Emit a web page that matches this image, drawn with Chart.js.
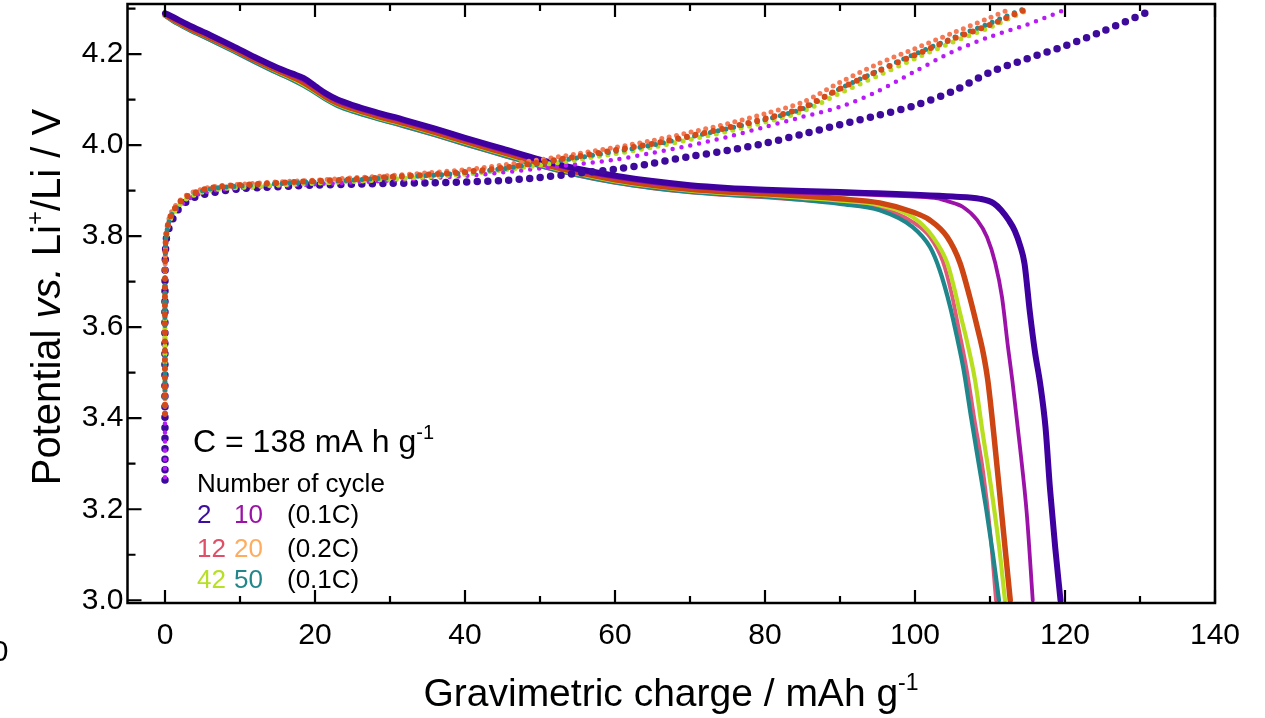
<!DOCTYPE html>
<html>
<head>
<meta charset="utf-8">
<script src="https://cdn.jsdelivr.net/npm/chart.js@4/dist/chart.umd.min.js"></script>
<style>
  html, body { margin: 0; padding: 0; background: #fff; overflow: hidden; }
  canvas { display: block; }
</style>
</head>
<body>
<canvas id="c" width="1265" height="718" style="width:1265px;height:718px"></canvas>
<script>
const FONT = '"Liberation Sans", Arial, Helvetica, sans-serif';

// Axis ticks
const xTicks = [0, 20, 40, 60, 80, 100, 120, 140];
const xMinorTicks = [10, 30, 50, 70, 90, 110, 130];
const yTicks = [3.0, 3.2, 3.4, 3.6, 3.8, 4.0, 4.2];
const yMinorTicks = [3.1, 3.3, 3.5, 3.7, 3.9, 4.1, 4.3];

// Cycle numbers and C-rates shown in the key
const cycles = [2, 10, 12, 20, 42, 50];
const rateRows = ['(0.1C)', '(0.2C)', '(0.1C)'];

// Discharge curves (solid lines): capacity / mAh g-1 and potential / V
const dis2Cap = [0,1,3,6,9,12,15,17,18.5,20,21.5,23,25,28,32,36,40,45,50,55,60,65,70,75,80,85,90,95,100,105,108.7,110.5,111.5,112.5,113.3,114.0,114.6,115.3,116.0,116.7,117.4,118.0,118.7,119.4];
const dis2V = [4.290,4.282,4.265,4.242,4.218,4.193,4.170,4.157,4.147,4.130,4.113,4.100,4.088,4.073,4.055,4.036,4.016,3.992,3.968,3.948,3.933,3.921,3.912,3.906,3.902,3.899,3.897,3.894,3.891,3.887,3.882,3.872,3.857,3.835,3.812,3.780,3.740,3.635,3.545,3.475,3.380,3.245,3.115,3.000];

const dis10Cap = [0,1,3,6,9,12,15,17,18.5,20,21.5,23,25,28,32,36,40,45,50,55,60,65,70,75,80,85,90,95,100,103,104.3,106.4,108.3,109.6,110.7,111.6,112.4,113.0,114.0,114.9,115.7];
const dis10V = [4.288,4.279,4.262,4.239,4.215,4.190,4.167,4.153,4.142,4.126,4.109,4.096,4.084,4.069,4.051,4.032,4.012,3.988,3.964,3.944,3.929,3.917,3.908,3.902,3.898,3.895,3.893,3.890,3.887,3.883,3.877,3.864,3.835,3.798,3.741,3.666,3.556,3.480,3.336,3.191,3.000];

const dis12Cap = [0,1,3,6,9,12,15,17,18.5,20,21.5,23,25,28,32,36,40,45,50,55,60,65,70,75,80,85,90,95.3,99.7,102,103.7,104.9,105.9,106.9,107.9,109.1,110.0,110.8];
const dis12V = [4.284,4.273,4.255,4.231,4.207,4.182,4.158,4.143,4.131,4.116,4.100,4.087,4.074,4.059,4.040,4.021,4.001,3.977,3.953,3.933,3.917,3.905,3.896,3.890,3.885,3.879,3.872,3.862,3.831,3.798,3.745,3.672,3.590,3.505,3.400,3.280,3.154,3.000];

const dis20Cap = [0,1,3,6,9,12,15,17,18.5,20,21.5,23,25,28,32,36,40,45,50,55,60,65,70,75,80,85,90,95.3,99.7,102,104.3,106,107.3,108.3,109.1,109.7,110.6,111.5,112.1,112.7];
const dis20V = [4.286,4.277,4.259,4.236,4.212,4.187,4.164,4.149,4.137,4.121,4.105,4.092,4.080,4.065,4.047,4.028,4.008,3.984,3.960,3.940,3.924,3.912,3.903,3.897,3.893,3.888,3.882,3.873,3.853,3.835,3.798,3.741,3.666,3.600,3.543,3.484,3.350,3.200,3.100,3.000];

const dis42Cap = [0,1,3,6,9,12,15,17,18.5,20,21.5,23,25,28,32,36,40,45,50,55,60,65,70,75,80,85,90,95.3,99.7,102.4,104.3,105.3,106.0,106.9,108.0,109.0,110.0,111.2,112.0];
const dis42V = [4.285,4.275,4.257,4.234,4.210,4.185,4.161,4.146,4.133,4.118,4.102,4.089,4.077,4.062,4.044,4.025,4.005,3.981,3.957,3.937,3.921,3.909,3.900,3.894,3.890,3.884,3.878,3.868,3.842,3.798,3.741,3.681,3.631,3.571,3.484,3.370,3.264,3.120,3.000];

const dis50Cap = [0,1,3,6,9,12,15,17,18.5,20,21.5,23,25,28,32,36,40,45,50,55,60,65,70,75,80,85,90,95.3,99.7,102,103.3,104.7,105.6,106.5,107.5,108.6,109.5,110.4,111.2];
const dis50V = [4.284,4.273,4.255,4.231,4.207,4.182,4.158,4.143,4.130,4.115,4.099,4.086,4.074,4.059,4.041,4.022,4.002,3.978,3.954,3.934,3.918,3.906,3.897,3.891,3.887,3.880,3.871,3.857,3.820,3.776,3.725,3.644,3.578,3.505,3.400,3.290,3.200,3.100,3.000];

// Charge curves (dotted): capacity / mAh g-1 and potential / V
const chg2Cap = [0,0,0.1,0.3,0.7,1.1,1.6,2.2,2.9,3.8,5,6.5,8,10,13,16.7,20,25,30,35,40,45,50,55,60,65,70,75,80,85,90,95,100,105,110,115,120,125,131];
const chg2V = [3.264,3.700,3.780,3.805,3.825,3.840,3.855,3.866,3.876,3.884,3.891,3.896,3.900,3.904,3.907,3.910,3.912,3.914,3.916,3.917,3.919,3.922,3.929,3.938,3.947,3.960,3.975,3.988,4.004,4.024,4.045,4.065,4.087,4.118,4.160,4.190,4.218,4.250,4.292];

const chg10Cap = [0,0,0.1,0.3,0.6,1.0,1.5,2.1,2.8,3.6,4.5,5.5,7,9,12,16,20,25,30,35,40,45,50,55,60,65,70,75,80,85,90,95,100,105,110,115,119.5];
const chg10V = [3.270,3.700,3.785,3.810,3.830,3.845,3.857,3.868,3.878,3.886,3.892,3.897,3.901,3.905,3.908,3.911,3.914,3.918,3.922,3.927,3.932,3.940,3.949,3.958,3.968,3.983,3.999,4.018,4.040,4.062,4.084,4.118,4.162,4.205,4.238,4.265,4.294];

const chg12Cap = [0,0,0.1,0.3,0.6,1.0,1.5,2.1,2.8,3.6,4.5,5.5,7,9,12,16,20,25,30,35,40,45,50,55,60,65,70,75,80,85,90,95,100,105,110,112.3];
const chg12V = [3.410,3.700,3.795,3.822,3.842,3.857,3.869,3.880,3.889,3.896,3.901,3.906,3.910,3.913,3.916,3.920,3.923,3.928,3.933,3.939,3.946,3.956,3.968,3.981,3.995,4.010,4.028,4.047,4.069,4.094,4.138,4.178,4.212,4.246,4.280,4.296];

const chg20Cap = [0,0,0.1,0.3,0.6,1.0,1.5,2.1,2.8,3.6,4.5,5.5,7,9,12,16,20,25,30,35,40,45,50,55,60,65,70,75,80,85,90,95,100,105,110,115];
const chg20V = [3.410,3.700,3.792,3.818,3.838,3.853,3.865,3.877,3.886,3.893,3.899,3.904,3.908,3.911,3.914,3.918,3.921,3.925,3.930,3.935,3.941,3.950,3.962,3.975,3.989,4.003,4.020,4.038,4.058,4.082,4.124,4.162,4.198,4.233,4.264,4.300];

const chg42Cap = [0,0,0.1,0.3,0.6,1.0,1.5,2.1,2.8,3.6,4.5,5.5,7,9,12,16,20,25,30,35,40,45,50,55,60,65,70,75,80,85,90,95,100,105,110,115.3];
const chg42V = [3.410,3.700,3.788,3.812,3.832,3.847,3.859,3.871,3.881,3.888,3.894,3.899,3.903,3.906,3.909,3.913,3.916,3.920,3.925,3.930,3.936,3.945,3.956,3.968,3.981,3.995,4.012,4.030,4.050,4.074,4.114,4.152,4.190,4.226,4.259,4.299];

const chg50Cap = [0,0,0.1,0.3,0.6,1.0,1.5,2.1,2.8,3.6,4.5,5.5,7,9,12,16,20,25,30,35,40,45,50,55,60,65,70,75,80,85,90,95,100,105,110,114.3];
const chg50V = [3.410,3.700,3.790,3.815,3.835,3.850,3.862,3.874,3.884,3.891,3.897,3.902,3.906,3.909,3.912,3.916,3.919,3.923,3.928,3.933,3.939,3.948,3.960,3.972,3.986,4.000,4.018,4.036,4.056,4.080,4.124,4.163,4.200,4.235,4.268,4.298];

// Colours per cycle
const lineColors = { 2: '#3f00a0', 10: '#9c12a8', 12: '#e0587a', 20: '#cc4512', 42: '#b8df1f', 50: '#1f878c' };
const dotColors  = { 2: '#3d0a9c', 10: '#b81cf6', 12: '#f47a56', 20: '#d44a18', 42: '#b5dc22', 50: '#218a8e' };
const keyColors  = { 2: '#3c0ea0', 10: '#9b13a6', 12: '#df5068', 20: '#ffac5f', 42: '#b6e024', 50: '#23878a' };

const pts = (xs, ys) => xs.map((x, i) => ({ x, y: ys[i] }));

function dotted(cycle, xs, ys, size, gap) {
  return {
    label: 'charge ' + cycle, data: pts(xs, ys),
    borderColor: dotColors[cycle], borderWidth: size,
    borderDash: [0, gap], borderCapStyle: 'round', borderJoinStyle: 'round',
    pointRadius: 0, tension: 0.3, fill: false
  };
}
function solid(cycle, xs, ys, width) {
  return {
    label: 'discharge ' + cycle, data: pts(xs, ys),
    borderColor: lineColors[cycle], borderWidth: width,
    borderCapStyle: 'round', borderJoinStyle: 'round',
    pointRadius: 0, cubicInterpolationMode: 'monotone', fill: false
  };
}

// first dataset is drawn on top
const datasets = [
  dotted(20, chg20Cap, chg20V, 6, 9),
  dotted(50, chg50Cap, chg50V, 5, 8),
  dotted(42, chg42Cap, chg42V, 5, 8.5),
  dotted(12, chg12Cap, chg12V, 5, 7.5),
  dotted(10, chg10Cap, chg10V, 4.5, 9),
  dotted(2, chg2Cap, chg2V, 7.5, 10.5),
  solid(2, dis2Cap, dis2V, 6),
  solid(10, dis10Cap, dis10V, 3.8),
  solid(20, dis20Cap, dis20V, 5.5),
  solid(42, dis42Cap, dis42V, 4.2),
  solid(50, dis50Cap, dis50V, 4.2),
  solid(12, dis12Cap, dis12V, 3.8)
];

function drawRuns(ctx, parts, x, y, align) {
  let total = 0;
  parts.forEach(p => {
    ctx.font = (p.style || '') + ' ' + p.size + 'px ' + FONT;
    p.w = ctx.measureText(p.text).width;
    total += p.w;
  });
  let cx = align === 'center' ? x - total / 2 : x;
  parts.forEach(p => {
    ctx.font = (p.style || '') + ' ' + p.size + 'px ' + FONT;
    ctx.fillStyle = p.color || '#000';
    ctx.fillText(p.text, cx, y - (p.rise || 0));
    cx += p.w;
  });
}

const framePlugin = {
  id: 'frame',
  afterDatasetsDraw(chart) {
    const { ctx, chartArea: a, scales: { x, y } } = chart;
    ctx.save();
    ctx.strokeStyle = '#000';
    ctx.lineWidth = 2.5;
    ctx.strokeRect(a.left, a.top, a.right - a.left, a.bottom - a.top);
    ctx.lineWidth = 2.2;
    ctx.beginPath();
    const tx = (v, len) => {
      const p = x.getPixelForValue(v);
      ctx.moveTo(p, a.bottom); ctx.lineTo(p, a.bottom - len);
      ctx.moveTo(p, a.top); ctx.lineTo(p, a.top + len);
    };
    xTicks.forEach(v => tx(v, 13));
    xMinorTicks.forEach(v => tx(v, 7));
    const ty = (v, len) => {
      const p = y.getPixelForValue(v);
      ctx.moveTo(a.left, p); ctx.lineTo(a.left + len, p);
    };
    yTicks.forEach(v => ty(v, 14));
    yMinorTicks.forEach(v => ty(v, 8));
    ctx.stroke();
    ctx.restore();
  },
  afterDraw(chart) {
    const { ctx } = chart;
    ctx.save();
    ctx.textBaseline = 'alphabetic';
    ctx.textAlign = 'left';

    // x axis title
    drawRuns(ctx, [
      { text: 'Gravimetric charge / mAh g', size: 39 },
      { text: '-1', size: 23, rise: 16 }
    ], 671, 706, 'center');

    // y axis title
    ctx.save();
    ctx.translate(60, 297);
    ctx.rotate(-Math.PI / 2);
    drawRuns(ctx, [
      { text: 'Potential ', size: 40 },
      { text: 'vs.', size: 40, style: 'italic' },
      { text: ' Li', size: 40 },
      { text: '+', size: 24, rise: 17 },
      { text: '/Li / V', size: 40 }
    ], 0, 0, 'center');
    ctx.restore();

    // capacity note and key
    drawRuns(ctx, [
      { text: 'C = 138 mA h g', size: 32 },
      { text: '-1', size: 20, rise: 13 }
    ], 193, 452, 'left');
    drawRuns(ctx, [{ text: 'Number of cycle', size: 26 }], 197, 492, 'left');
    const rowY = [523, 557, 588];
    const colX = [197, 234];
    rateRows.forEach((r, i) => {
      const a = cycles[i * 2], b = cycles[i * 2 + 1];
      drawRuns(ctx, [{ text: String(a), size: 26, color: keyColors[a] }], colX[0], rowY[i], 'left');
      drawRuns(ctx, [{ text: String(b), size: 26, color: keyColors[b] }], colX[1], rowY[i], 'left');
      drawRuns(ctx, [{ text: r, size: 26 }], 287, rowY[i], 'left');
    });

    // edge label of a neighbouring axis
    drawRuns(ctx, [{ text: '0', size: 30 }], 0, 661, 'center');
    ctx.restore();
  }
};

new Chart(document.getElementById('c'), {
  type: 'line',
  data: { datasets },
  options: {
    responsive: false,
    animation: false,
    events: [],
    layout: { padding: { top: 4, right: 50, bottom: 0, left: 0 } },
    plugins: { legend: { display: false }, tooltip: { enabled: false }, title: { display: false } },
    scales: {
      x: {
        type: 'linear', min: -5, max: 140,
        grid: { display: false, drawTicks: false },
        border: { display: false },
        afterBuildTicks: s => { s.ticks = xTicks.map(v => ({ value: v })); },
        afterFit: s => { s.height = 115; s.paddingLeft = 0; s.paddingRight = 0; },
        ticks: { font: { size: 30, family: FONT }, color: '#000', padding: 15, maxRotation: 0, autoSkip: false }
      },
      y: {
        type: 'linear', min: 2.994, max: 4.31,
        grid: { display: false, drawTicks: false },
        border: { display: false },
        afterBuildTicks: s => { s.ticks = yTicks.map(v => ({ value: v })); },
        afterFit: s => { s.width = 127.5; s.paddingTop = 0; s.paddingBottom = 0; },
        ticks: { font: { size: 30, family: FONT }, color: '#000', padding: 4, autoSkip: false,
                 callback: v => Number(v).toFixed(1) }
      }
    }
  },
  plugins: [framePlugin]
});
</script>
</body>
</html>
